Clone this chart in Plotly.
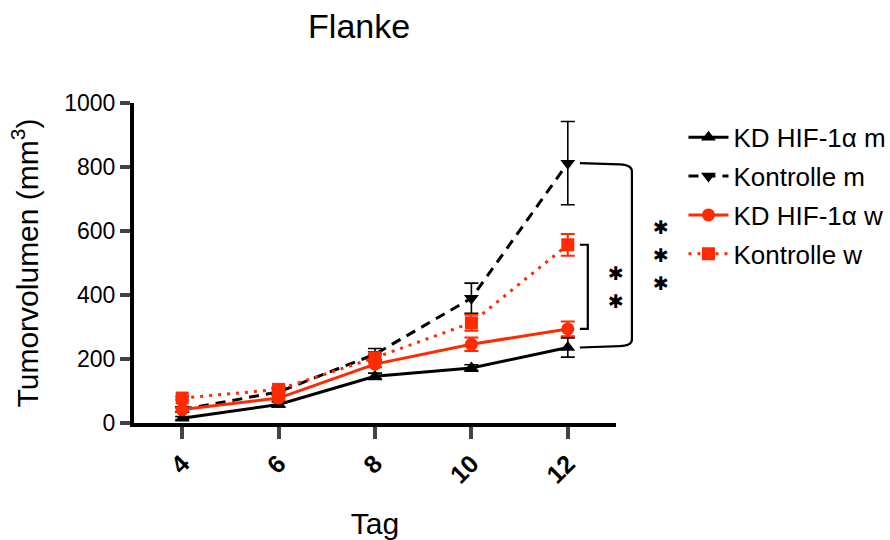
import plotly.graph_objects as go

# ---- data ----
days = [4, 6, 8, 10, 12]
tick_labels = ["4", "6", "8", "10", "12"]

kd_m = [15, 58, 146, 172, 236]        # KD HIF-1α m
kd_m_err = [5, 8, 10, 10, 30]
ko_m = [42, 97, 215, 390, 812]        # Kontrolle m
ko_m_err = [8, 12, 18, 47, 130]
kd_w = [42, 78, 184, 246, 294]        # KD HIF-1α w
kd_w_err = [5, 8, 10, 21, 23]
ko_w = [78, 105, 204, 313, 557]       # Kontrolle w
ko_w_err = [5, 8, 12, 25, 34]

RED = "#ff2a00"
BLACK = "#000000"
FONT = "Liberation Sans, Arial, Helvetica, sans-serif"

X_MIN, X_MAX = 3, 13
Y_MIN, Y_MAX = 0, 1000

fig = go.Figure()

def add(name, y, err, color, symbol, dash, ew):
    fig.add_trace(go.Scatter(
        x=days, y=y, name=name, mode="lines+markers",
        legendgroup=name,
        line=dict(color=color, width=3, dash=dash),
        marker=dict(symbol=symbol, size=13, color=color),
        error_y=dict(type="data", array=err, visible=True, color=color,
                     thickness=ew, width=7),
        cliponaxis=False,
    ))

add("KD HIF-1α m", kd_m, kd_m_err, BLACK, "triangle-up", "solid", 1.6)
add("Kontrolle m", ko_m, ko_m_err, BLACK, "triangle-down", "10px,7px", 1.6)
add("KD HIF-1α w", kd_w, kd_w_err, RED, "circle", "solid", 2)
add("Kontrolle w", ko_w, ko_w_err, RED, "square", "3px,6px", 2)

# ---- significance brackets (paper coordinates derived from data) ----
def px(day):
    return (day - X_MIN) / (X_MAX - X_MIN)

def py(v):
    return (v - Y_MIN) / (Y_MAX - Y_MIN)

x0 = px(12.25)
# large bracket: Kontrolle m vs KD HIF-1α m at day 12
xl = px(13.33)
yt, yb = py(ko_m[-1]), py(kd_m[-1])
rx, ry = 0.025, 0.025
big_path = (f"M{x0},{yt} L{xl - rx},{yt - 0.004} Q{xl},{yt - 0.006} {xl},{yt - ry} "
            f"L{xl},{yb + ry} Q{xl},{yb + 0.006} {xl - rx},{yb + 0.004} L{x0},{yb}")
fig.add_shape(type="path", xref="paper", yref="paper", path=big_path,
              line=dict(color=BLACK, width=2.2))
# small bracket: Kontrolle w vs KD HIF-1α w at day 12
xs = px(12.415)
yt2, yb2 = py(ko_w[-1]), py(kd_w[-1])
small_path = f"M{x0},{yt2} L{xs},{yt2} L{xs},{yb2} L{x0},{yb2}"
fig.add_shape(type="path", xref="paper", yref="paper", path=small_path,
              line=dict(color=BLACK, width=2.2))

star_font = dict(family="DejaVu Sans", size=19, color=BLACK)
mid_small = (yt2 + yb2) / 2
for dy in (0.044, -0.044):
    fig.add_annotation(x=px(13.21), y=mid_small + dy, xref="paper", yref="paper",
                       text="✱", showarrow=False, font=star_font)
mid_big = (yt + yb) / 2
for dy in (0.088, 0.0, -0.088):
    fig.add_annotation(x=px(14.14), y=mid_big + dy, xref="paper", yref="paper",
                       text="✱", showarrow=False, font=star_font)

fig.update_layout(
    width=890, height=540,
    margin=dict(l=134, r=274, t=103, b=117, autoexpand=False),
    paper_bgcolor="white", plot_bgcolor="white",
    font=dict(family=FONT, color=BLACK),
    title=dict(text="Flanke", x=0.467, xref="paper", xanchor="center",
               y=0.952, yanchor="middle", font=dict(size=34, family=FONT)),
    showlegend=True,
    legend=dict(x=1.14, xanchor="left", y=0.966, yanchor="top",
                font=dict(size=26, family=FONT), tracegroupgap=2,
                itemwidth=40,
                traceorder="grouped", bgcolor="rgba(0,0,0,0)"),
    xaxis=dict(range=[X_MIN, X_MAX], tickmode="array", tickvals=days,
               ticktext=[f"<b>{t}</b>" for t in tick_labels],
               tickangle=-45, ticks="outside", ticklen=12, tickwidth=4,
               showline=True, linewidth=4, linecolor=BLACK,
               showgrid=False, zeroline=False,
               tickfont=dict(size=25, family=FONT),
               title=dict(text="Tag", font=dict(size=30, family=FONT), standoff=26)),
    yaxis=dict(range=[Y_MIN, Y_MAX], tickmode="array",
               tickvals=[0, 200, 400, 600, 800, 1000],
               ticks="outside", ticklen=10, tickwidth=4,
               showline=True, linewidth=4, linecolor=BLACK,
               showgrid=False, zeroline=False,
               tickfont=dict(size=23, family=FONT),
               title=dict(text="Tumorvolumen (mm<sup>3</sup>)",
                          font=dict(size=30, family=FONT), standoff=18)),
)

fig.write_html("out.html", config={"displayModeBar": False},
               post_script="document.body.style.margin='0';")
